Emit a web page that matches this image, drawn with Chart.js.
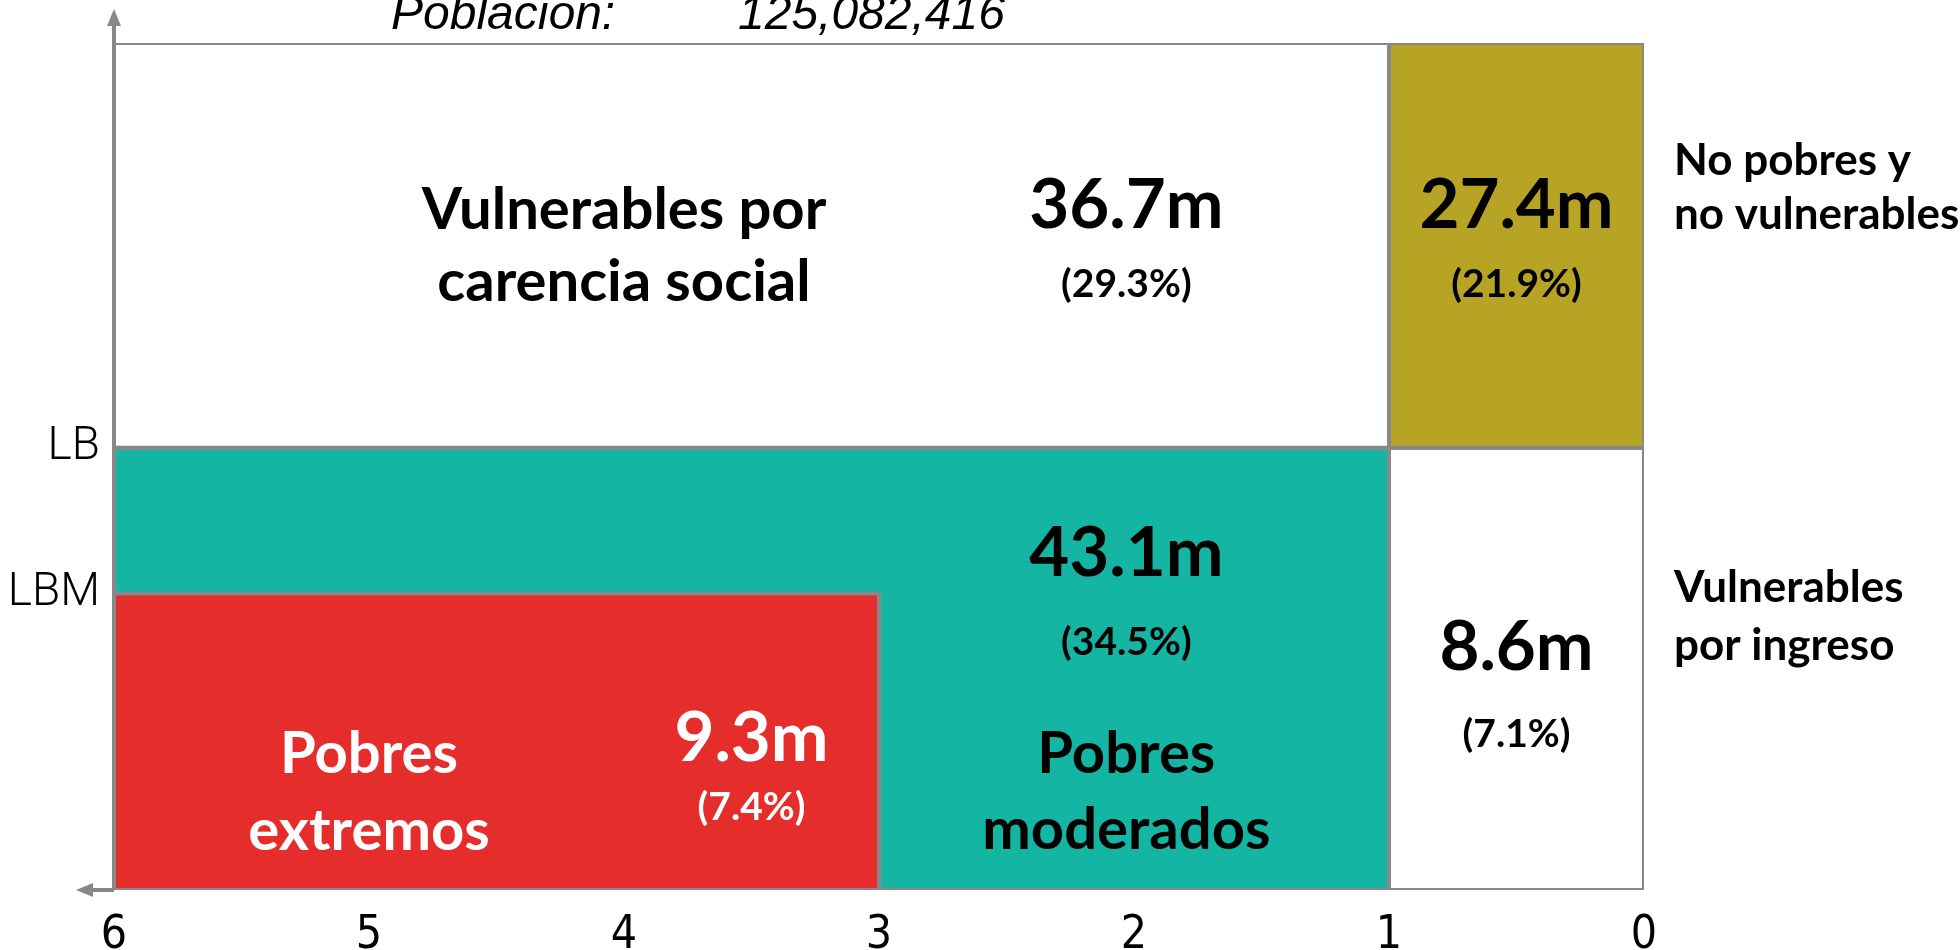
<!DOCTYPE html>
<html lang="es">
<head>
<meta charset="UTF-8">
<title>Población: 125,082,416</title>
<script src="https://cdn.jsdelivr.net/npm/chart.js"></script>
<style>
    html, body { margin: 0; padding: 0; background: #fff; overflow: hidden; }
    #chart { display: block; }
</style>
</head>
<body>
<canvas id="chart" width="1960" height="950"></canvas>
<script>
    // datos
    const poblacionTotal = 125082416;
    const grupos = [
        ['Vulnerables por', 'carencia social'],
        ['No pobres y', 'no vulnerables'],
        ['Pobres', 'moderados'],
        ['Vulnerables', 'por ingreso'],
        ['Pobres', 'extremos']
    ];
    const millones = [36.7, 27.4, 43.1, 8.6, 9.3];
    const porcentajes = [29.3, 21.9, 34.5, 7.1, 7.4];

    // eje x: número de carencias sociales
    const carenciaTicks = [6, 5, 4, 3, 2, 1, 0];
    // eje y: ingreso (unidades relativas)
    const lineasIngreso = [3.5, 5.22];
    const lineasEtiquetas = ['LBM', 'LB'];
    const ingresoMax = 10;
    const LBM = lineasIngreso[0], LB = lineasIngreso[1];

    // límites de cada región
    const carenciaDesde = [6, 1, 6, 1, 6];
    const carenciaHasta = [1, 0, 1, 0, 3];
    const ingresoDesde = [LB, LB, 0, 0, 0];
    const ingresoHasta = [ingresoMax, ingresoMax, LB, LB, LBM];

    // estilos
    const colores = ['#ffffff', '#b7a324', '#15b5a3', '#ffffff', '#e52e2c'];
    const colorTexto = ['#000', '#000', '#000', '#000', '#fff'];
    const gris = '#888888';
    const fuente = 'Lato, "Open Sans", sans-serif';

    // posición de los textos (coordenadas del gráfico); nombre fuera = a la derecha
    const layout = [
        {nombre: [4.0, 7.80], valor: [2.03, 7.82], pct: [2.03, 7.0], gap: 72},
        {nombre: ['fuera', 8.44], valor: [0.5, 7.82], pct: [0.5, 7.0], gap: 54},
        {nombre: [2.03, 1.38], valor: [2.03, 3.71], pct: [2.03, 2.77], gap: 76},
        {nombre: ['fuera', 3.40], valor: [0.5, 2.60], pct: [0.5, 1.69], gap: 58},
        {nombre: [5.0, 1.38], valor: [3.5, 1.52], pct: [3.5, 0.83], gap: 77}
    ];

    const datasets = grupos.map((g, i) => ({
        label: g.join(' '),
        data: [
            {x: carenciaDesde[i], y: ingresoDesde[i]},
            {x: carenciaDesde[i], y: ingresoHasta[i]},
            {x: carenciaHasta[i], y: ingresoHasta[i]},
            {x: carenciaHasta[i], y: ingresoDesde[i]},
            {x: carenciaDesde[i], y: ingresoDesde[i]}
        ],
        backgroundColor: colores[i],
        borderColor: gris,
        borderWidth: 4,
        borderCapStyle: 'square',
        borderJoinStyle: 'miter',
        fill: 'shape',
        tension: 0,
        pointRadius: 0,
        pointHoverRadius: 0,
        order: i === 4 ? 0 : 1
    }));

    const textos = {
        id: 'textos',
        afterDraw(chart) {
            const {ctx, chartArea, scales} = chart;
            const x = scales.x, y = scales.y;
            ctx.save();

            // ejes con flecha
            ctx.strokeStyle = gris;
            ctx.fillStyle = gris;
            ctx.lineWidth = 4;
            ctx.beginPath();
            ctx.moveTo(chartArea.left, chartArea.bottom);
            ctx.lineTo(chartArea.left, chartArea.top - 20);
            ctx.moveTo(chartArea.left, chartArea.bottom);
            ctx.lineTo(chartArea.left - 24, chartArea.bottom);
            ctx.stroke();
            ctx.beginPath();
            ctx.moveTo(chartArea.left, chartArea.top - 34);
            ctx.lineTo(chartArea.left - 7, chartArea.top - 17);
            ctx.lineTo(chartArea.left + 7, chartArea.top - 17);
            ctx.closePath();
            ctx.fill();
            ctx.beginPath();
            ctx.moveTo(chartArea.left - 38, chartArea.bottom);
            ctx.lineTo(chartArea.left - 21, chartArea.bottom - 7);
            ctx.lineTo(chartArea.left - 21, chartArea.bottom + 7);
            ctx.closePath();
            ctx.fill();

            // título
            ctx.fillStyle = '#000';
            ctx.textAlign = 'left';
            ctx.textBaseline = 'alphabetic';
            ctx.font = 'italic 48px "Liberation Sans", Arial, sans-serif';
            ctx.fillText('Población:', chartArea.left + 277, chartArea.top - 14);
            ctx.fillText(poblacionTotal.toLocaleString('en-US'), chartArea.left + 624, chartArea.top - 14);

            // etiquetas de cada región
            grupos.forEach((lineas, i) => {
                const L = layout[i];
                ctx.fillStyle = colorTexto[i];
                ctx.textAlign = 'center';
                ctx.font = '700 69px ' + fuente;
                ctx.fillText(millones[i].toFixed(1) + 'm', x.getPixelForValue(L.valor[0]), y.getPixelForValue(L.valor[1]));
                ctx.font = '700 39px ' + fuente;
                ctx.fillText('(' + porcentajes[i].toFixed(1) + '%)', x.getPixelForValue(L.pct[0]), y.getPixelForValue(L.pct[1]));

                let px;
                if (L.nombre[0] === 'fuera') {
                    ctx.fillStyle = '#000';
                    ctx.textAlign = 'left';
                    ctx.font = '700 44px ' + fuente;
                    px = chartArea.right + 30;
                } else {
                    ctx.textAlign = 'center';
                    ctx.font = '700 58px ' + fuente;
                    px = x.getPixelForValue(L.nombre[0]);
                }
                const py = y.getPixelForValue(L.nombre[1]);
                lineas.forEach((t, k) => ctx.fillText(t, px, py + k * L.gap));
            });
            ctx.restore();
        }
    };

    new Chart(document.getElementById('chart'), {
        type: 'line',
        data: { datasets: datasets },
        options: {
            responsive: false,
            animation: false,
            devicePixelRatio: 1,
            layout: { padding: { top: 43, right: 316, bottom: 0, left: 0 } },
            plugins: {
                legend: { display: false },
                tooltip: { enabled: false },
                filler: { propagate: false }
            },
            scales: {
                x: {
                    type: 'linear',
                    reverse: true,
                    min: 0,
                    max: 6,
                    afterBuildTicks: (s) => { s.ticks = carenciaTicks.map(v => ({value: v})); },
                    afterFit: (s) => { s.height = 60; },
                    grid: { display: false, drawTicks: false },
                    border: { display: false },
                    ticks: {
                        padding: 18,
                        color: '#000',
                        font: { family: '"Liberation Sans Narrow", "DejaVu Sans Condensed", sans-serif', size: 46 },
                        maxRotation: 0
                    }
                },
                y: {
                    type: 'linear',
                    min: 0,
                    max: ingresoMax,
                    afterBuildTicks: (s) => { s.ticks = lineasIngreso.map(v => ({value: v})); },
                    afterFit: (s) => { s.width = 114; },
                    grid: { display: false, drawTicks: false },
                    border: { display: false },
                    ticks: {
                        padding: 14,
                        color: '#000',
                        font: { family: 'Roboto, sans-serif', size: 46, weight: '300' },
                        callback: (v) => lineasEtiquetas[lineasIngreso.indexOf(v)]
                    }
                }
            }
        },
        plugins: [textos]
    });
</script>
</body>
</html>
